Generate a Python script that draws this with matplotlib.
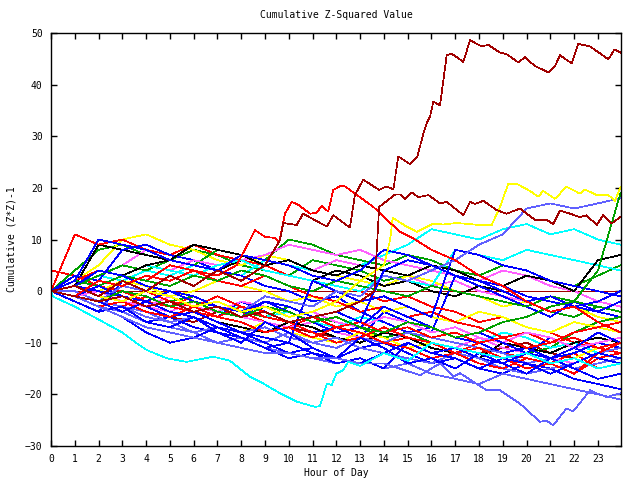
import matplotlib
matplotlib.use("Agg")
import matplotlib.pyplot as plt

plt.rcParams["font.family"] = ["DejaVu Sans Mono"]

# common hourly grid for most of the series
hours = [0, 1, 2, 3, 4, 5, 6, 7, 8, 9, 10, 11, 12, 13, 14, 15, 16, 17, 18, 19, 20, 21, 22, 23, 23.95]

# blue series
b1 = [0, -1, -3, -4, -6, -5, -7, -8, -9, -11, -10, -12, -13, -11, -10, -12, -14, -13, -15, -16, -14, -15, -17, -18, -19]
b2 = [0, -2, -4, 2, 1, -1, -3, -5, -2, -4, -6, -8, -7, -9, -4, -6, -8, 3, 1, -1, -3, -5, -2, -4, -5]
b3 = [0, 3, 2, 8, 9, 7, 6, 4, 3, 1, 0, -2, -1, -4, -6, -8, -7, -9, -10, -12, -11, -13, -12, -10, -11]
b4 = [0, -1, -3, -5, -8, -10, -9, -7, -9, -11, -13, -12, -14, -13, -15, -10, -12, -11, -13, -14, -12, -9, -11, -13, -14]
b5 = [0, 1, 4, 3, 1, 0, -2, -3, -5, -2, -4, -6, -8, -7, -3, -5, -7, -9, -8, -10, -12, -13, -11, -8, -10]
b6 = [0, -1, 1, -1, -3, -5, -4, -6, -8, -9, -10, 2, 0, -2, -1, -3, -5, 8, 7, 5, 4, 2, 1, 0, -1]
b7 = [0, 2, 10, 9, 8, 6, 5, 4, 7, 6, 5, 3, 2, 4, 8, 7, 5, 3, 2, 1, -1, -2, -3, -4, -2]
b8 = [0, -2, -4, -3, -6, -7, -5, -8, -10, -6, -8, -11, -13, -9, -11, -14, -13, -15, -12, -14, -16, -13, -15, -17, -16]
b9 = [0, -1, -2, -4, -2, -4, -5, -7, -8, -10, -12, -11, -13, -14, -12, -10, -12, -13, -15, -13, -14, -16, -14, -12, -13]
b10 = [0, 1, 0, -1, -2, 0, -1, -3, -4, -2, -3, -5, -4, -6, 4, 6, 5, 3, 2, 0, -2, -1, -3, -2, 0]

# medium blue series
m2 = [0, -1, -2, 1, 0, -1, -3, -2, -4, -1, -2, -3, 0, -1, 3, 2, 4, 6, 9, 11, 16, 17, 16, 17, 18]
m3 = [0, -1, -3, -4, -6, -7, -8, -10, -9, -11, -12, -13, -14, -13, -15, -14, -16, -17, -18, -16, -17, -18, -19, -20, -21]
m4 = [0, 0, -2, -3, -5, -6, -8, -7, -9, -10, -8, -10, -11, -9, -10, -8, -9, -10, -11, -12, -14, -13, -15, -14, -13]
m5 = [0, -1, -2, -3, -4, -6, -5, -7, -8, -7, -9, -10, -9, -11, -12, -13, -14, -12, -13, -15, -16, -15, -14, -12, -11]

# red series
r1 = [4, 3, 1, 0, -2, -3, -1, -3, -4, -6, -7, -5, -7, -8, -10, -9, -11, -12, -10, -12, -13, -14, -12, -15, -14]
r2 = [0, 11, 9, 10, 8, 7, 9, 7, 6, 5, 3, 2, 1, 0, -2, -1, -3, -4, -6, -5, -7, -8, -10, -11, -12]
r3 = [0, -1, -2, -3, -1, -3, -4, -5, -3, -5, -6, -8, -10, -9, -7, -9, -10, -12, -11, -13, -15, -14, -16, -13, -12]
r4 = [0, 2, 4, 3, 2, 5, 4, 2, 1, 3, 1, -1, -2, -4, -3, -5, -4, -6, -7, -9, -8, -10, -9, -11, -10]
r5 = [0, 1, -1, -2, 0, -2, -3, -1, -3, -4, -6, -5, -7, -6, -8, -7, -9, -8, -10, -9, -11, -10, -8, -7, -6]
r6 = [0, -1, -3, -2, -4, -5, -3, -5, -6, -8, -7, -9, -7, -8, -10, -11, -13, -12, -14, -15, -13, -14, -16, -12, -10]

# dark red series
dr3 = [0, -1, -2, -3, -4, -5, -6, -4, -5, -6, -7, -8, -9, -10, -8, -9, -10, -11, -12, -11, -10, -12, -13, -11, -12]
dr_zero = [0] * 25

# green series
g1 = [0, 4, 8, 9, 7, 6, 8, 7, 5, 4, 3, 6, 5, 4, 2, 3, 1, 0, -1, -3, -2, -4, -5, -3, -4]
g2 = [0, -1, 2, 1, 0, -2, -1, -3, -4, -5, -3, -5, -6, -7, -9, -8, -10, -11, -9, -10, -12, -11, -8, -6, -5]
g3 = [0, 1, 3, 5, 4, 6, 5, 8, 7, 6, 10, 9, 7, 6, 5, 7, 6, 4, 3, 5, 4, 2, 1, 3, 5]
g4 = [0, -1, -2, 0, -1, -3, -2, -4, -5, -3, -4, -6, -5, -7, -8, -6, -7, -9, -8, -6, -5, -3, -2, 4, 19]
g5 = [0, 2, 1, 3, 2, 1, 3, 2, 4, 3, 1, 0, 2, 1, 0, -1, 1, 0, -1, -2, -3, -1, -2, -3, -4]

# magenta series
mg1 = [0, 1, 3, 5, 8, 7, 9, 8, 7, 6, 5, 4, 6, 5, 4, 3, 1, 2, 0, -1, -2, -1, -3, -4, -5]
mg2 = [0, -1, -2, -1, -3, -4, -2, -4, -5, -6, -7, -6, -8, -9, -7, -9, -10, -11, -9, -11, -12, -13, -14, -12, -13]
mg3 = [0, 2, 4, 3, 5, 4, 6, 5, 6, 7, 9, 8, 7, 8, 6, 5, 4, 3, 2, 4, 3, 1, 0, -2, -3]
mg4 = [0, -1, 0, -2, -3, -1, -3, -4, -2, -3, -5, -4, -6, -7, -5, -6, -8, -7, -9, -10, -8, -9, -11, -10, -9]

# cyan series
c2 = [0, 1, 3, 2, 4, 3, 5, 4, 3, 6, 5, 4, 3, 5, 7, 9, 12, 11, 10, 12, 13, 11, 12, 10, 9]
c3 = [0, -1, -2, 0, -1, -3, -2, -4, -3, -5, -4, -6, -7, -5, -6, -8, -7, -9, -10, -8, -9, -11, -10, -12, -13]
c4 = [0, 2, 1, 3, 5, 4, 3, 5, 6, 4, 3, 2, 1, 0, 3, 2, 1, 8, 7, 6, 8, 7, 6, 5, 4]

# yellow series
y2 = [0, 2, 5, 10, 11, 9, 8, 6, 5, 7, 6, 4, 3, 2, 1, 3, 2, 0, -1, -3, -2, -4, -3, -5, -6]
y3 = [0, -1, -3, -2, -4, -6, -5, -7, -8, -6, -8, -9, -10, -8, -9, -11, -10, -12, -11, -13, -12, -14, -13, -11, -10]
y4 = [0, 1, 0, 2, 1, -1, 0, 2, 1, 0, -2, -1, -3, -2, -4, -3, -5, -6, -4, -5, -7, -8, -6, -7, -8]

# black series
k1 = [0, 1, 9, 8, 7, 6, 5, 4, 6, 5, 3, 2, 4, 3, 1, 2, 0, -1, 1, 0, -2, -1, -3, -4, -5]
k2 = [0, -1, -3, -2, -4, -5, -4, -6, -7, -8, -6, -7, -9, -10, -8, -9, -11, -12, -13, -10, -11, -12, -10, -9, -10]
k3 = [0, 2, 4, 3, 5, 6, 9, 8, 7, 5, 6, 4, 3, 5, 4, 3, 5, 4, 2, 1, 3, 2, 0, 6, 7]

# the outliers, traced at their own times
dr_big_h = [0, 1, 2, 3, 4, 5, 6, 7, 8, 9, 9.63, 9.77, 10.33, 10.6, 11.6, 11.87, 12.57, 12.78, 13.13, 13.8, 14.1,
            14.4, 14.6, 15.1, 15.4, 15.66, 15.8, 15.94, 16.08, 16.36, 16.64, 16.85, 17.34, 17.62, 18.11, 18.39,
            18.88, 19.16, 19.65, 19.93, 20.35, 20.91, 21.19, 21.4, 21.9, 22.17, 22.67, 23.44, 23.69, 23.95]
dr_big_v = [0, 1, -1, 2, 0, 3, 1, 4, 2, 5, 9.9, 13.2, 12.8, 15.0, 12.5, 14.7, 12.3, 18.6, 21.6, 19.6, 20.3,
            19.7, 26.1, 24.6, 26.0, 30.5, 32.5, 33.8, 36.7, 36.0, 45.7, 46.0, 44.4, 48.6, 47.4, 47.7,
            46.2, 45.9, 44.3, 45.3, 43.6, 42.4, 43.5, 45.7, 44.1, 47.9, 47.4, 44.9, 46.8, 46.2]

dr2_h = [0, 1, 2, 3, 4, 5, 6, 7, 8, 9, 10, 11, 12, 13, 13.6, 13.8, 14.47, 14.68, 14.89, 15.17, 15.45, 15.87,
         16.36, 16.64, 17.34, 17.62, 17.83, 18.18, 18.74, 19.16, 19.72, 20.35, 20.84, 21.12, 21.4, 21.9,
         22.24, 22.52, 22.95, 23.22, 23.58, 23.95]
dr2_v = [0, -1, -2, -1, -3, -2, -4, -3, -5, -4, -6, -5, -4, -2, 0, 16.3, 18.7, 18.7, 17.8, 19.1, 18.2, 18.6,
         17.0, 17.3, 14.7, 17.3, 16.9, 17.5, 15.7, 15.0, 16.0, 13.8, 13.8, 13.0, 15.6, 14.9,
         14.3, 14.7, 12.8, 14.7, 13.1, 14.4]

r_top_h = [0, 1, 2, 3, 4, 5, 6, 7, 7.8, 8.37, 8.58, 9.0, 9.42, 9.6, 9.84, 10.12, 10.4, 10.9, 11.17, 11.38,
           11.66, 11.87, 12.15, 12.36, 12.78, 13.56, 13.98, 14.68, 15.24, 16, 17, 18, 19, 20, 21, 22, 23, 23.95]
r_top_v = [0, -1, 2, 1, 3, 2, 4, 3, 5, 9.9, 11.8, 10.5, 10.3, 9.5, 15.0, 17.3, 16.7, 15.0, 15.2, 16.5,
           15.4, 19.6, 20.3, 20.3, 18.9, 16.3, 14.4, 11.5, 10.2, 8, 6, 3, 1, -2, -4, -3, -6, -8]

y_top_h = [0, 1, 2, 3, 4, 5, 6, 7, 8, 9, 10, 11, 12, 13, 14, 14.26, 14.37, 14.95, 15.38, 15.52, 16.08, 16.5,
           17.06, 18.04, 18.53, 18.88, 19.23, 19.58, 20.14, 20.49, 20.7, 21.19, 21.68, 22.24, 22.45, 22.95,
           23.44, 23.72, 23.95]
y_top_v = [0, 1, -1, -2, 0, -1, -3, -2, -4, -3, -5, -4, -2, 2, 5, 9.9, 14.2, 12.5, 11.5, 11.8, 13.1, 12.9,
           13.2, 12.8, 12.8, 16.3, 20.8, 20.8, 19.4, 18.3, 19.4, 17.9, 20.2, 18.9, 19.7, 18.6,
           18.6, 17.5, 20.2]

c_low_h = [0, 0.1, 1, 2, 3, 3.6, 4.02, 4.86, 5.7, 6.82, 7.53, 8.37, 8.93, 9.63, 10.33, 11.1, 11.31, 11.6, 11.8,
           12.0, 12.29, 12.5, 13, 14, 15, 16, 17, 18, 19, 20, 21, 22, 23, 23.95]
c_low_v = [0, -1.1, -3, -5.5, -8, -10.1, -11.4, -13, -13.7, -12.7, -13.5, -16.6, -17.9, -19.8, -21.4, -22.4,
           -22.3, -17.9, -18.2, -16, -15.3, -13.7, -14.5, -12, -13.5, -10, -11, -12, -13, -12, -14, -13, -15, -14]

m1_h = [0, 1, 2, 3, 4, 5, 6, 7, 8, 9, 10, 11, 12, 13, 14, 15.52, 16.36, 16.92, 17.2, 18.32, 18.88, 19.72,
        20.56, 20.84, 21.12, 21.68, 21.96, 22.67, 22.95, 23.37, 23.95]
m1_v = [0, -1, -3, -5, -7, -8, -9, -10, -11, -12, -12, -13, -13, -14, -14, -16.3, -14.0, -16.6, -15.9, -19.2,
        -19.2, -21.8, -25.3, -25.1, -26.0, -22.7, -23.3, -19.2, -19.8, -20.5, -19.8]

BLUE = "#0000ff"
MBLUE = "#6060ff"
RED = "#ff0000"
DRED = "#a00000"
GREEN = "#00a000"
MAG = "#ff60ff"
CYAN = "#00ffff"
YEL = "#ffff00"
BLACK = "#000000"

hourly = [
    (b1, BLUE), (r1, RED), (g1, GREEN), (mg1, MAG), (c2, CYAN), (y2, YEL), (k1, BLACK), (dr3, DRED),
    (b2, BLUE), (m3, MBLUE), (r2, RED), (g2, GREEN), (mg2, MAG), (c3, CYAN), (y3, YEL), (k2, BLACK),
    (b3, BLUE), (m4, MBLUE), (r3, RED), (g3, GREEN), (mg3, MAG), (c4, CYAN), (y4, YEL), (k3, BLACK),
    (b4, BLUE), (m5, MBLUE), (r4, RED), (g5, GREEN), (mg4, MAG), (b5, BLUE), (r5, RED), (b6, BLUE),
    (b7, BLUE), (r6, RED), (b8, BLUE), (m2, MBLUE), (b9, BLUE), (b10, BLUE), (g4, GREEN),
]

fig = plt.figure(figsize=(6.4, 4.8), dpi=100)
ax = fig.add_axes([51 / 640, 1 - 446 / 480, 570 / 640, 413 / 480])

lw = 0.5
ax.plot(hours, dr_zero, color=DRED, lw=lw, antialiased=False)
for vals, col in hourly:
    ax.plot(hours, vals, color=col, lw=lw, antialiased=False)
ax.plot(m1_h, m1_v, color=MBLUE, lw=lw, antialiased=False)
ax.plot(c_low_h, c_low_v, color=CYAN, lw=lw, antialiased=False)
ax.plot(y_top_h, y_top_v, color=YEL, lw=lw, antialiased=False)
ax.plot(r_top_h, r_top_v, color=RED, lw=lw, antialiased=False)
ax.plot(dr2_h, dr2_v, color=DRED, lw=lw, antialiased=False)
ax.plot(dr_big_h, dr_big_v, color=DRED, lw=lw, antialiased=False)

ax.set_xlim(0, 23.97)
ax.set_ylim(-30, 50)
ax.set_xticks(range(24))
ax.set_yticks(range(-30, 51, 10))
ax.tick_params(direction="in", top=True, right=True, length=4, width=1, labelsize=7, pad=6)
for s in ax.spines.values():
    s.set_linewidth(1)

ax.set_title("Cumulative Z-Squared Value", fontsize=7, pad=11)
ax.set_xlabel("Hour of Day", fontsize=7, labelpad=3)
ax.set_ylabel("Cumulative (Z*Z)-1", fontsize=7, labelpad=6)

fig.savefig("out.png", dpi=100)
